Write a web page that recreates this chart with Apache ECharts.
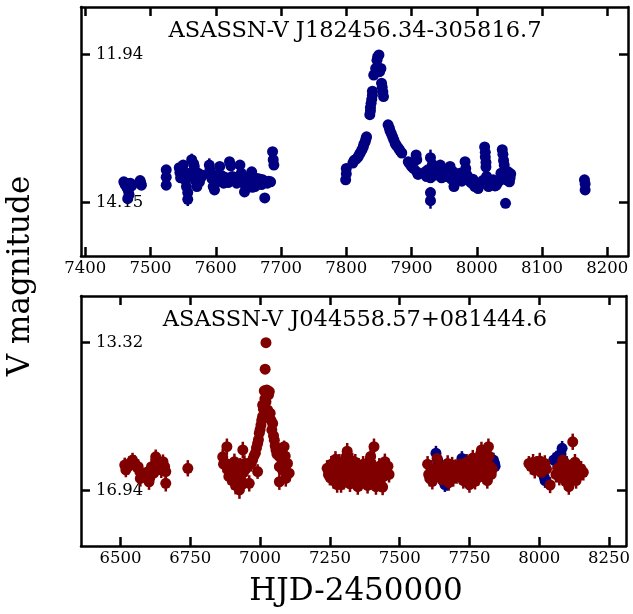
<!DOCTYPE html>
<html>
<head>
<meta charset="utf-8">
<script src="https://cdn.jsdelivr.net/npm/echarts@6/dist/echarts.min.js"></script>
<style>
  html, body { margin: 0; padding: 0; background: #fff; }
  #chart { width: 633px; height: 614px; }
</style>
</head>
<body>
<div id="chart"></div>
<script>
// Light curves: each entry is [HJD-2450000, V magnitude, error]
const j1824V = [
  [7459,13.84,0.03],[7461,13.88,0.03],[7463,13.86,0.04],[7464,13.93,0.04],[7466,13.97,0.05],
  [7467,14.03,0.05],[7465,14.09,0.06],[7469,13.86,0.03],[7471,13.90,0.04],
  [7484,13.82,0.03],[7485,13.86,0.03],[7486,13.89,0.03],
  [7524,13.66,0.04],[7524,13.77,0.04],[7524,13.89,0.04],
  [7544,13.63,0.04],[7545,13.70,0.04],[7546,13.78,0.04],[7548,13.66,0.05],[7550,13.59,0.04],
  [7551,13.74,0.04],[7553,13.81,0.05],[7555,13.91,0.06],[7556,13.71,0.05],[7557,14.00,0.07],
  [7557,14.10,0.10],[7560,13.76,0.05],[7563,13.51,0.09],[7565,13.69,0.05],[7566,13.57,0.05],
  [7567,13.61,0.05],[7568,13.81,0.05],[7569,13.75,0.04],[7571,13.91,0.05],[7573,13.71,0.05],
  [7575,13.84,0.04],[7577,13.78,0.05],[7580,13.74,0.04],
  [7590,13.59,0.10],[7591,13.66,0.05],[7592,13.72,0.05],[7594,13.79,0.04],[7596,13.91,0.05],
  [7598,13.96,0.04],[7600,13.76,0.04],[7602,13.84,0.04],[7604,13.73,0.04],[7606,13.61,0.04],
  [7608,13.74,0.04],[7610,13.80,0.04],[7612,13.86,0.04],[7614,13.77,0.04],[7617,13.79,0.04],
  [7619,13.85,0.04],[7621,13.54,0.04],[7623,13.60,0.04],[7625,13.76,0.04],[7627,13.81,0.04],
  [7629,13.77,0.04],[7632,13.86,0.04],[7634,13.80,0.04],[7637,13.59,0.04],[7639,13.71,0.04],
  [7641,13.79,0.04],[7642,13.86,0.05],[7644,13.99,0.05],[7646,13.91,0.04],[7647,13.83,0.04],
  [7649,13.79,0.04],[7651,13.86,0.04],[7653,13.75,0.04],[7655,13.69,0.04],[7656,13.92,0.05],
  [7658,13.81,0.04],[7660,13.91,0.04],[7662,13.85,0.04],[7664,13.79,0.04],[7666,13.86,0.04],
  [7668,13.80,0.04],[7670,13.88,0.04],[7672,13.81,0.04],[7675,14.08,0.05],[7676,13.84,0.04],
  [7679,13.86,0.04],[7681,13.83,0.04],[7684,13.84,0.04],[7687,13.39,0.04],[7688,13.51,0.04],
  [7689,13.59,0.04],
  [7799,13.81,0.03],[7800,13.72,0.03],[7800,13.64,0.03],[7810,13.56,0.03],[7812,13.52,0.03],
  [7815,13.50,0.03],[7818,13.47,0.03],[7820,13.43,0.03],[7822,13.40,0.03],[7824,13.36,0.03],
  [7826,13.32,0.03],[7827,13.28,0.03],[7829,13.24,0.03],[7830,13.20,0.03],[7831,13.17,0.03],
  [7836,12.84,0.02],[7837,12.78,0.02],[7837,12.73,0.02],[7838,12.67,0.02],[7839,12.61,0.02],
  [7840,12.55,0.02],[7840,12.49,0.02],[7842,12.25,0.02],[7845,12.15,0.02],[7847,12.03,0.02],
  [7848,11.98,0.02],[7850,11.95,0.02],[7851,12.20,0.02],[7853,12.15,0.02],[7854,12.37,0.02],
  [7855,12.43,0.02],[7856,12.50,0.02],[7857,12.57,0.02],
  [7864,12.99,0.03],[7866,13.04,0.03],[7867,13.08,0.03],[7869,13.12,0.03],[7871,13.17,0.03],
  [7873,13.22,0.03],[7875,13.27,0.03],[7877,13.30,0.03],[7880,13.34,0.03],[7882,13.37,0.03],
  [7885,13.41,0.03],[7895,13.54,0.03],[7897,13.57,0.03],[7900,13.61,0.03],[7903,13.64,0.03],
  [7907,13.44,0.03],[7908,13.51,0.03],[7908,13.69,0.03],[7910,13.73,0.03],
  [7921,13.69,0.04],[7923,13.76,0.04],[7925,13.66,0.04],[7929,13.48,0.12],[7929,13.78,0.06],
  [7929,14.00,0.08],[7929,14.12,0.12],[7932,13.58,0.04],[7934,13.66,0.04],[7936,13.74,0.04],
  [7939,13.71,0.04],[7941,13.62,0.04],[7944,13.59,0.04],[7946,13.78,0.04],[7949,13.66,0.04],
  [7951,13.72,0.04],[7954,13.76,0.04],[7956,13.68,0.04],[7959,13.61,0.04],[7961,13.80,0.04],
  [7964,13.69,0.04],[7965,13.91,0.05],[7967,13.75,0.04],[7969,13.81,0.04],[7972,13.74,0.04],
  [7974,13.71,0.04],[7977,13.83,0.04],[7980,13.78,0.04],[7982,13.54,0.04],[7983,13.64,0.04],
  [7985,13.74,0.04],[7987,13.81,0.04],[7990,13.84,0.04],[7992,13.86,0.04],[7994,13.80,0.04],
  [7997,13.91,0.04],[7999,13.86,0.04],[8002,13.94,0.04],[8004,13.88,0.04],[8007,13.86,0.04],
  [8009,13.82,0.04],[8012,13.32,0.04],[8013,13.40,0.04],[8013,13.47,0.04],[8014,13.55,0.04],
  [8014,13.62,0.04],[8015,13.76,0.04],[8016,13.86,0.04],[8018,13.91,0.04],[8021,13.84,0.04],
  [8023,13.87,0.04],[8025,13.81,0.04],[8028,13.90,0.04],[8030,13.89,0.04],[8033,13.84,0.04],
  [8035,13.81,0.04],[8037,13.71,0.04],[8039,13.36,0.04],[8040,13.43,0.04],[8041,13.52,0.04],
  [8042,13.59,0.04],[8043,13.71,0.04],[8044,14.16,0.04],[8045,13.81,0.04],[8047,13.75,0.04],
  [8048,13.69,0.04],[8050,13.84,0.04],[8051,13.78,0.04],[8052,13.72,0.04],
  [8165,13.81,0.04],[8166,13.87,0.04],[8166,13.96,0.04]
];

const j0445V = [
  [6515,16.32,0.18],[6519,16.44,0.18],[6527,16.36,0.20],[6533,16.28,0.18],[6543,16.20,0.18],
  [6551,16.28,0.20],[6560,16.38,0.20],[6563,16.36,0.18],[6569,16.48,0.20],[6571,16.65,0.20],
  [6590,16.58,0.20],[6599,16.48,0.20],[6602,16.73,0.20],[6611,16.36,0.20],[6619,16.52,0.18],
  [6626,16.12,0.18],[6628,16.28,0.20],[6646,16.44,0.20],[6652,16.24,0.18],[6658,16.36,0.18],
  [6662,16.48,0.20],[6662,16.77,0.20],[6741,16.40,0.20],
  [6866,16.12,0.20],[6869,16.30,0.20],[6878,16.28,0.20],[6881,15.87,0.20],[6884,16.44,0.20],
  [6888,16.60,0.20],[6893,16.50,0.20],[6896,16.36,0.20],[6900,16.70,0.22],[6902,16.56,0.20],
  [6905,16.40,0.20],[6908,16.24,0.20],[6912,16.82,0.22],[6914,16.73,0.20],[6918,16.45,0.20],
  [6922,16.60,0.20],[6926,16.93,0.22],[6929,16.35,0.20],[6932,16.69,0.20],[6935,16.80,0.20],
  [6938,15.95,0.20],[6941,16.50,0.20],[6944,16.28,0.20],[6950,16.40,0.20],[6955,16.33,0.18],
  [6961,16.77,0.20],[6962,16.28,0.18],[6967,16.30,0.18],[6973,16.20,0.15],[6978,16.10,0.15],
  [6983,16.03,0.12],[6987,15.90,0.12],[6991,15.79,0.12],[6991,16.48,0.18],[6994,15.70,0.10],
  [6997,15.54,0.10],[7000,15.45,0.10],[7003,15.34,0.08],[7006,15.22,0.08],[7009,15.13,0.08],
  [7009,14.85,0.07],[7012,14.95,0.07],[7015,14.50,0.06],[7017,14.70,0.06],[7018,13.97,0.05],
  [7021,13.32,0.05],[7021,14.77,0.06],[7024,14.48,0.06],[7027,14.97,0.06],[7030,14.60,0.06],
  [7033,14.52,0.06],[7036,15.05,0.07],[7039,15.22,0.08],[7042,15.46,0.08],[7045,15.30,0.08],
  [7048,15.60,0.10],[7051,15.71,0.10],[7054,15.85,0.12],[7057,15.95,0.12],[7060,16.05,0.15],
  [7064,15.98,0.15],[7069,16.11,0.15],[7069,16.36,0.18],[7069,16.73,0.20],[7074,16.00,0.15],
  [7078,16.20,0.18],[7080,16.44,0.18],[7086,15.87,0.15],[7090,16.10,0.20],[7092,16.65,0.20],
  [7098,16.28,0.20],[7104,16.52,0.20],
  [7240,16.40,0.20],[7245,16.55,0.20],[7250,16.62,0.20],[7255,16.30,0.20],[7259,16.48,0.20],
  [7263,16.70,0.20],[7268,16.58,0.20],[7270,16.18,0.20],[7272,16.36,0.20],[7276,16.80,0.20],
  [7280,16.50,0.20],[7284,16.25,0.20],[7288,16.65,0.20],[7290,16.80,0.20],[7292,16.42,0.20],
  [7296,16.55,0.20],[7300,16.72,0.20],[7304,16.33,0.20],[7308,16.12,0.20],[7312,15.98,0.20],
  [7315,16.45,0.20],[7318,16.62,0.20],[7322,16.78,0.20],[7325,16.50,0.20],[7329,16.38,0.20],
  [7330,16.22,0.20],[7333,16.60,0.20],[7337,16.70,0.20],[7341,16.25,0.20],[7345,16.48,0.20],
  [7349,16.62,0.20],[7350,16.85,0.20],[7353,16.35,0.20],[7357,16.55,0.20],[7361,16.75,0.20],
  [7365,16.42,0.20],[7369,16.30,0.20],[7373,16.60,0.20],[7377,16.50,0.20],[7381,16.68,0.20],
  [7385,16.82,0.20],[7389,16.45,0.20],[7393,16.20,0.20],[7396,16.11,0.20],[7400,16.58,0.20],
  [7404,16.72,0.20],[7408,15.87,0.20],[7411,16.40,0.20],[7415,16.85,0.20],[7419,16.55,0.20],
  [7423,16.65,0.20],[7427,16.35,0.20],[7431,16.78,0.20],[7435,16.48,0.20],[7439,16.86,0.20],
  [7443,16.60,0.20],[7447,16.24,0.20],[7452,16.45,0.20],[7458,16.35,0.20],[7462,16.55,0.20],
  [7600,16.30,0.20],[7604,16.55,0.20],[7608,16.65,0.20],[7612,16.40,0.20],[7617,16.72,0.20],
  [7622,16.48,0.20],[7627,16.60,0.20],[7634,16.16,0.20],[7638,16.42,0.20],[7643,16.55,0.20],
  [7648,16.35,0.20],[7653,16.68,0.20],[7658,16.50,0.20],[7663,16.40,0.20],[7668,16.62,0.20],
  [7672,16.28,0.20],[7676,16.75,0.20],[7680,16.45,0.20],[7684,16.55,0.20],[7688,16.32,0.20],
  [7692,16.65,0.20],[7696,16.48,0.20],[7700,16.38,0.20],[7704,16.58,0.20],[7710,16.45,0.20],
  [7716,16.30,0.20],[7722,16.55,0.20],[7728,16.70,0.20],[7734,16.40,0.20],[7740,16.25,0.20],
  [7745,16.60,0.20],[7750,16.80,0.20],[7754,16.45,0.20],[7758,16.35,0.20],[7762,16.15,0.20],
  [7766,16.55,0.20],[7770,16.72,0.20],[7774,16.40,0.20],[7778,16.30,0.20],[7782,16.62,0.20],
  [7786,16.48,0.20],[7790,16.05,0.20],[7793,15.95,0.20],[7797,16.38,0.20],[7801,16.58,0.20],
  [7805,16.20,0.20],[7810,16.45,0.20],[7814,16.70,0.20],[7818,15.87,0.20],[7820,16.10,0.20],
  [7824,16.35,0.20],[7828,16.55,0.20],[7832,16.42,0.20],
  [7963,16.28,0.18],[7970,16.35,0.20],[7978,16.25,0.20],[7984,16.45,0.20],[7990,16.30,0.20],
  [7996,16.40,0.20],[8002,16.22,0.20],[8008,16.50,0.20],[8014,16.35,0.20],[8020,16.28,0.20],
  [8026,16.42,0.20],[8039,16.81,0.20],[8060,16.55,0.20],[8066,16.40,0.20],[8072,16.62,0.20],
  [8078,16.35,0.20],[8084,16.20,0.20],[8090,16.48,0.20],[8094,16.72,0.20],[8098,16.30,0.20],
  [8102,16.58,0.20],[8106,16.85,0.20],[8110,16.45,0.20],[8114,16.65,0.20],[8118,16.38,0.20],
  [8120,15.75,0.20],[8124,16.55,0.20],[8128,16.25,0.20],[8132,16.70,0.20],[8136,16.48,0.20],
  [8142,16.58,0.20],[8150,16.42,0.20],[8158,16.50,0.20]
];

// second camera for J0445, drawn underneath
const j0445Cam2 = [
  [7630,16.03,0.18],[7636,16.20,0.18],[7642,16.45,0.18],[7648,16.62,0.18],[7655,16.70,0.18],
  [7662,16.80,0.18],[7669,16.77,0.18],[7675,16.55,0.18],[7700,16.40,0.18],[7712,16.35,0.18],
  [7723,16.16,0.18],[7730,16.45,0.18],[7737,16.62,0.18],[7745,16.75,0.18],[7755,16.60,0.18],
  [7790,16.40,0.18],[7810,16.30,0.18],[7836,16.20,0.18],[7840,16.28,0.18],[7842,16.35,0.18],
  [8010,16.40,0.18],[8014,16.50,0.18],[8018,16.62,0.18],[8021,16.70,0.18],[8052,16.20,0.18],
  [8062,16.15,0.18],[8068,16.10,0.18],[8078,16.05,0.18],[8082,15.91,0.18],[8086,16.20,0.18],
  [8092,16.35,0.18]
];

const topTitle = 'ASASSN-V J182456.34-305816.7';
const bottomTitle = 'ASASSN-V J044558.57+081444.6';
const topTicksX = [7400, 7500, 7600, 7700, 7800, 7900, 8000, 8100, 8200];
const topTicksY = [11.94, 14.15];
const bottomTicksX = [6500, 6750, 7000, 7250, 7500, 7750, 8000, 8250];
const bottomTicksY = [13.32, 16.94];

const NAVY = '#000080';
const MAROON = '#800000';
const FONT = '"DejaVu Serif", "Liberation Serif", serif';

const chart = echarts.init(document.getElementById('chart'), null, { renderer: 'canvas' });

const lineStyle = { color: '#000', width: 2.5 };
const tickStyle = { color: '#000', width: 2.5 };

function xAxes(gridIndex, min, max, ticks) {
  const base = {
    type: 'value', gridIndex, min, max,
    splitLine: { show: false },
    axisLine: { show: true, onZero: false, lineStyle },
    axisTick: { show: true, inside: true, length: 9, lineStyle: tickStyle, customValues: ticks }
  };
  return [
    Object.assign({}, base, {
      position: 'bottom',
      axisLabel: {
        customValues: ticks, color: '#000', fontFamily: FONT, fontSize: 16.5, margin: 4,
        formatter: v => String(Math.round(v))
      }
    }),
    Object.assign({}, base, { position: 'top', axisLabel: { show: false } })
  ];
}

function yAxes(gridIndex, min, max, ticks) {
  const base = {
    type: 'value', gridIndex, min, max, inverse: true,
    splitLine: { show: false },
    axisLine: { show: true, onZero: false, lineStyle },
    axisTick: { show: true, inside: true, length: 9, lineStyle: tickStyle, customValues: ticks }
  };
  return [
    Object.assign({}, base, {
      position: 'left',
      axisLabel: {
        customValues: ticks, inside: true, margin: 15, color: '#000',
        fontFamily: FONT, fontSize: 16.5, formatter: v => v.toFixed(2)
      }
    }),
    Object.assign({}, base, { position: 'right', axisLabel: { show: false } })
  ];
}

function errorBars(data, color, xi, yi) {
  return {
    type: 'custom', xAxisIndex: xi, yAxisIndex: yi, data, clip: true,
    encode: { x: 0, y: 1 },
    renderItem(params, api) {
      const x = api.value(0), y = api.value(1), e = api.value(2);
      const a = api.coord([x, y - e]);
      const b = api.coord([x, y + e]);
      return {
        type: 'line',
        shape: { x1: a[0], y1: a[1], x2: b[0], y2: b[1] },
        style: { stroke: color, lineWidth: 2.5 }
      };
    }
  };
}

function points(data, color, xi, yi) {
  return {
    type: 'scatter', xAxisIndex: xi, yAxisIndex: yi, data, clip: true,
    symbol: 'circle', symbolSize: 11,
    itemStyle: { color, opacity: 1 },
    emphasis: { disabled: true }
  };
}

chart.setOption({
  animation: false,
  backgroundColor: '#fff',
  grid: [
    { left: 81, top: 7, width: 547, height: 249 },
    { left: 81, top: 296, width: 547, height: 250 }
  ],
  xAxis: [
    ...xAxes(0, 7393.4, 8231.7, topTicksX),
    ...xAxes(1, 6358.3, 8310.7, bottomTicksX)
  ],
  yAxis: [
    ...yAxes(0, 11.236, 14.944, topTicksY),
    ...yAxes(1, 12.175, 18.306, bottomTicksY)
  ],
  series: [
    errorBars(j1824V, NAVY, 0, 0),
    points(j1824V, NAVY, 0, 0),
    errorBars(j0445Cam2, NAVY, 2, 2),
    points(j0445Cam2, NAVY, 2, 2),
    errorBars(j0445V, MAROON, 2, 2),
    points(j0445V, MAROON, 2, 2)
  ],
  graphic: [
    { type: 'text', x: 355, y: 31, style: { text: topTitle, font: '22.5px ' + FONT, fill: '#000', align: 'center', verticalAlign: 'middle' } },
    { type: 'text', x: 355, y: 320, style: { text: bottomTitle, font: '22.5px ' + FONT, fill: '#000', align: 'center', verticalAlign: 'middle' } },
    { type: 'text', x: 21, y: 276, rotation: Math.PI / 2, style: { text: 'V magnitude', font: '31px ' + FONT, fill: '#000', align: 'center', verticalAlign: 'middle' } },
    { type: 'text', x: 356, y: 592, style: { text: 'HJD-2450000', font: '31px ' + FONT, fill: '#000', align: 'center', verticalAlign: 'middle' } }
  ]
});
</script>
</body>
</html>
